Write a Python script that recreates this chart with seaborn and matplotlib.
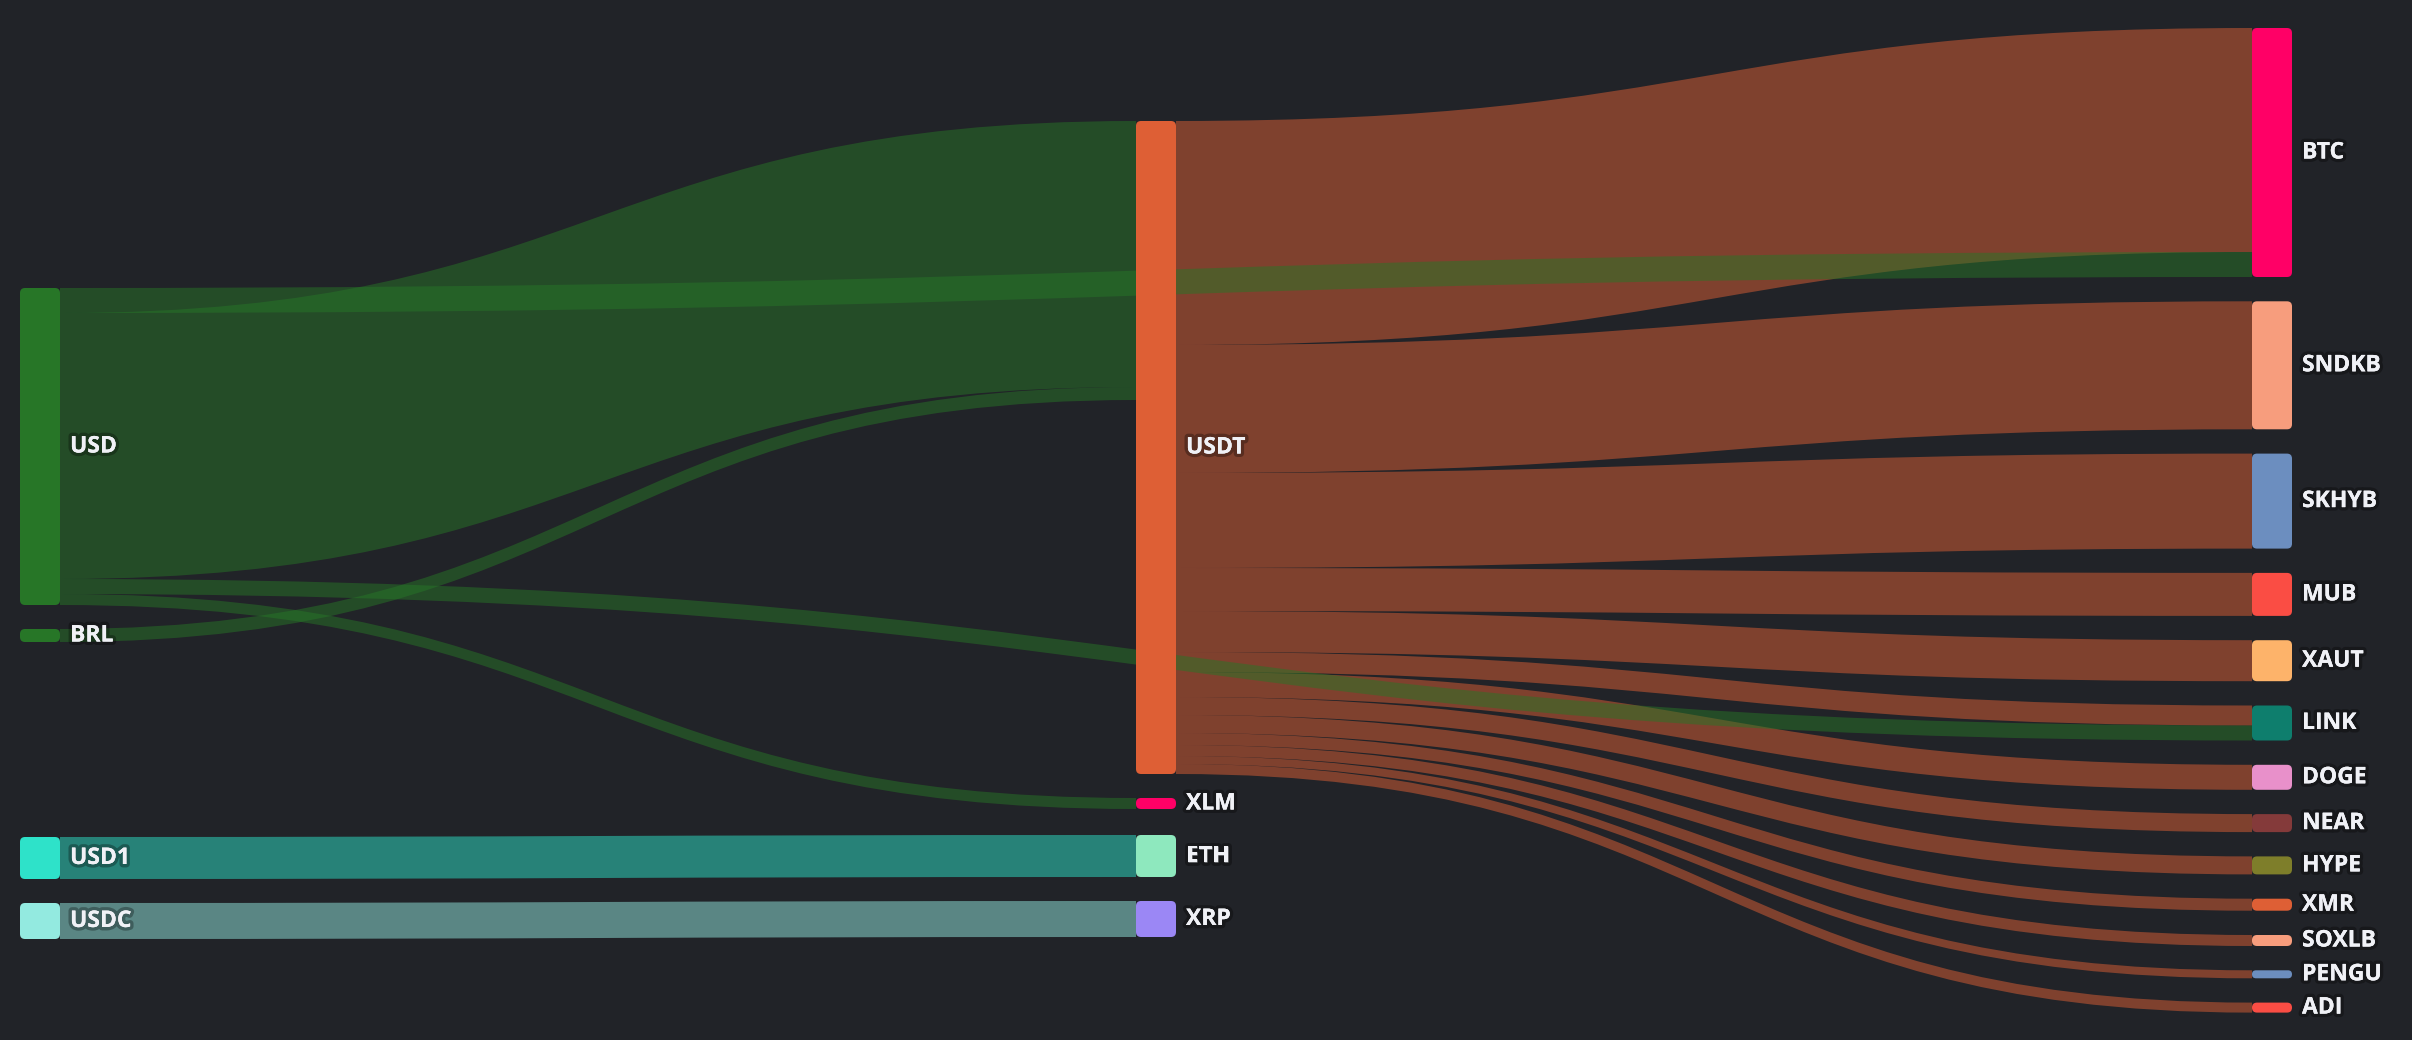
import numpy as np
import pandas as pd
import seaborn as sns
import matplotlib.pyplot as plt
from matplotlib.patches import FancyBboxPatch, PathPatch
from matplotlib.path import Path
import matplotlib.patheffects as pe

# DATA
nodes = ["USD", "BRL", "USD1", "USDC",
         "USDT", "XLM", "ETH", "XRP",
         "BTC", "SNDKB", "SKHYB", "MUB", "XAUT", "LINK", "DOGE",
         "NEAR", "HYPE", "XMR", "SOXLB", "PENGU", "ADI"]
node_column = [0, 0, 0, 0,
               1, 1, 1, 1,
               2, 2, 2, 2, 2, 2, 2, 2, 2, 2, 2, 2, 2]
node_colors = ["#277627", "#277627", "#2ee2c9", "#93eae0",
               "#de5f35", "#ff0066", "#8ee8be", "#9b87f5",
               "#ff0066", "#f79d7d", "#6c8ebf", "#fa4d44", "#fdb36a", "#0e7e6d", "#e890ca",
               "#843a3a", "#7e7e2a", "#de5f35", "#f79d7d", "#6c8ebf", "#fa4d44"]

link_source = ["USDT", "USDT", "USDT", "USDT", "USDT", "USDT", "USDT",
               "USDT", "USDT", "USDT", "USDT", "USDT", "USDT",
               "USD", "USD", "USD", "USD", "BRL", "USD1", "USDC"]
link_target = ["BTC", "SNDKB", "SKHYB", "MUB", "XAUT", "LINK", "DOGE",
               "NEAR", "HYPE", "XMR", "SOXLB", "PENGU", "ADI",
               "BTC", "USDT", "LINK", "XLM", "USDT", "ETH", "XRP"]
link_value = [224, 128, 95, 43, 41, 20, 25,
              18, 18, 12, 11, 8, 10,
              25, 266, 15, 11, 13, 42, 36]

# LAYOUT
W, H = 2412, 1040
bg = "#212328"
col_x = [20, 1136, 2252]
node_w = 40
col_top = [288, 121, 28]
col_gaps = {0: [24, 195, 24], 1: [24, 26, 24], 2: [24.3] * 12}

links = pd.DataFrame({"source": link_source, "target": link_target, "value": link_value})

# node size = max(in, out)
out_sum = links.groupby("source")["value"].sum()
in_sum = links.groupby("target")["value"].sum()
nd = pd.DataFrame({"name": nodes, "col": node_column, "color": node_colors})
nd["value"] = [max(out_sum.get(n, 0), in_sum.get(n, 0)) for n in nodes]
nd["x0"] = [col_x[c] for c in nd["col"]]
nd["y0"] = 0.0
for c in range(3):
    idx = nd.index[nd["col"] == c]
    y = col_top[c]
    for k, i in enumerate(idx):
        if k > 0:
            y += col_gaps[c][k - 1]
        nd.loc[i, "y0"] = y
        y += nd.loc[i, "value"]
nd = nd.set_index("name")

# stack links on each node side
links["y_src"] = 0.0
links["y_tgt"] = 0.0
for n in nodes:
    out_l = links[links["source"] == n].copy()
    out_l["key"] = out_l["target"].map(nd["y0"])
    y = nd.loc[n, "y0"]
    for i in out_l.sort_values("key").index:
        links.loc[i, "y_src"] = y
        y += links.loc[i, "value"]
    in_l = links[links["target"] == n].copy()
    in_l["key"] = in_l["source"].map(nd["y0"])
    y = nd.loc[n, "y0"]
    for i in in_l.sort_values("key").index:
        links.loc[i, "y_tgt"] = y
        y += links.loc[i, "value"]

# PLOT
sns.set_theme(style="dark", rc={"axes.facecolor": bg, "figure.facecolor": bg})
plt.rcParams["font.family"] = ["Open Sans", "DejaVu Sans"]

fig = plt.figure(figsize=(W / 100, H / 100), dpi=100)
ax = fig.add_axes([0, 0, 1, 1])
ax.set_xlim(0, W)
ax.set_ylim(H, 0)
ax.axis("off")

# links: later columns first so the USD bands sit on top
order = links.assign(c=links["source"].map(nd["col"])).sort_values("c", ascending=False, kind="stable")
for _, r in order.iterrows():
    x0 = nd.loc[r["source"], "x0"] + node_w
    x1 = nd.loc[r["target"], "x0"]
    xm = (x0 + x1) / 2
    v = r["value"]
    a0, a1 = r["y_src"], r["y_tgt"]
    verts = [(x0, a0), (xm, a0), (xm, a1), (x1, a1),
             (x1, a1 + v), (xm, a1 + v), (xm, a0 + v), (x0, a0 + v), (x0, a0)]
    codes = [Path.MOVETO, Path.CURVE4, Path.CURVE4, Path.CURVE4,
             Path.LINETO, Path.CURVE4, Path.CURVE4, Path.CURVE4, Path.CLOSEPOLY]
    col = sns.color_palette([nd.loc[r["source"], "color"]])[0]
    ax.add_patch(PathPatch(Path(verts, codes), facecolor=col, alpha=0.5, edgecolor="none", zorder=1))

# nodes + labels
for n, r in nd.iterrows():
    h = r["value"]
    rad = min(5, h / 2)
    ax.add_patch(FancyBboxPatch((r["x0"], r["y0"]), node_w, h,
                                boxstyle=f"round,pad=0,rounding_size={rad}",
                                facecolor=r["color"], edgecolor="none", zorder=3))
    ax.text(r["x0"] + node_w + 10, r["y0"] + h / 2, n, color="#f0f1f6",
            fontsize=16.5, fontweight="bold", ha="left", va="center", zorder=4,
            path_effects=[pe.withStroke(linewidth=5, foreground=(0, 0, 0, 0.3)), pe.Normal()])

fig.savefig("out.png", dpi=100, facecolor=bg)
